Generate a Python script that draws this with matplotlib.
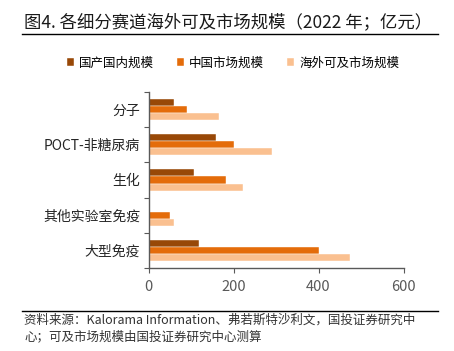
import matplotlib
matplotlib.use("Agg")
import matplotlib.pyplot as plt
import numpy as np

plt.rcParams['font.family'] = ['Noto Sans CJK SC', 'DejaVu Sans']

categories = ["分子", "POCT-非糖尿病", "生化", "其他实验室免疫", "大型免疫"]
domestic = [61, 159, 107, 0, 119]
china_market = [90, 201, 182, 51, 400]
overseas = [167, 290, 222, 61, 474]
series_names = ["国产国内规模", "中国市场规模", "海外可及市场规模"]
colors = ["#984807", "#E46C0A", "#FAC090"]
xticks = [0, 200, 400, 600]

fig = plt.figure(figsize=(4.54, 3.51), dpi=100)
ax = fig.add_axes([148.5 / 454, 1 - 268.3 / 351, 255 / 454, 176.6 / 351])

y = np.arange(len(categories))
h = 0.2
for i, (vals, name, c) in enumerate(zip([domestic, china_market, overseas], series_names, colors)):
    ax.barh(y + (i - 1) * h, vals, height=h, color=c, label=name,
            edgecolor="white", linewidth=0.3)

ax.set_xlim(0, 600)
ax.set_ylim(len(categories) - 0.5, -0.5)
ax.set_xticks(xticks)
ax.set_xticklabels([str(t) for t in xticks])
ax.set_yticks(np.arange(-0.5, len(categories)), labels=[])
ax.set_yticks(y, minor=True)
ax.set_yticklabels(categories, minor=True)
ax.tick_params(axis="y", which="minor", length=0, pad=6, labelsize=10, labelcolor="#262626")
ax.tick_params(axis="y", which="major", length=3.5, color="#595959")
ax.tick_params(axis="x", length=3.5, color="#595959", labelsize=10.5, labelcolor="#595959", pad=5)
for s in ["top", "right"]:
    ax.spines[s].set_visible(False)
for s in ["left", "bottom"]:
    ax.spines[s].set_color("#595959")
    ax.spines[s].set_linewidth(1.0)

ax.legend(loc="center", bbox_to_anchor=(233 / 454, 1 - 63 / 351), bbox_transform=fig.transFigure,
          ncol=3, frameon=False, fontsize=9, handlelength=0.6, handleheight=0.6,
          handletextpad=0.4, columnspacing=1.8)

fig.text(24 / 454, 1 - 22 / 351, "图4. 各细分赛道海外可及市场规模（2022 年；亿元）",
         fontsize=12.5, color="#1a1a1a", va="center", ha="left", weight="medium")
fig.add_artist(plt.Line2D([22 / 454, 438 / 454], [1 - 34 / 351] * 2, color="black", linewidth=1.0))
fig.add_artist(plt.Line2D([22 / 454, 438 / 454], [1 - 311 / 351] * 2, color="black", linewidth=1.0))
fig.text(24 / 454, 1 - 320 / 351,
         "资料来源：Kalorama Information、弗若斯特沙利文，国投证券研究中", fontsize=9,
         color="#333333", style="italic", va="center", ha="left")
fig.text(24 / 454, 1 - 337 / 351,
         "心；可及市场规模由国投证券研究中心测算", fontsize=9,
         color="#333333", style="italic", va="center", ha="left")

fig.savefig("out.png", dpi=100)
